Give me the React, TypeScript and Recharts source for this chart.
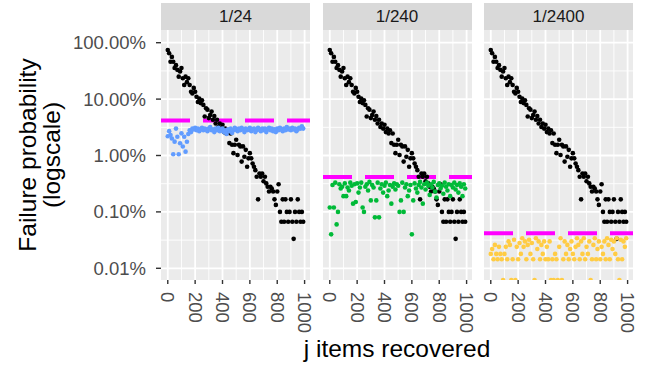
import React from "react";
import { ScatterChart, Scatter, XAxis, YAxis, CartesianGrid, ReferenceLine } from "recharts";

// j items recovered (x positions shared by every series)
const jValues = [
  0, 10, 20, 30, 40, 50, 60, 70, 80, 90,
  100, 110, 120, 130, 140, 150, 160, 170, 180, 190,
  200, 210, 220, 230, 240, 250, 260, 270, 280, 290,
  300, 310, 320, 330, 340, 350, 360, 370, 380, 390,
  400, 410, 420, 430, 440, 450, 460, 470, 480, 490,
  500, 510, 520, 530, 540, 550, 560, 570, 580, 590,
  600, 610, 620, 630, 640, 650, 660, 670, 680, 690,
  700, 710, 720, 730, 740, 750, 760, 770, 780, 790,
  800, 810, 820, 830, 840, 850, 860, 870, 880, 890,
  900, 910, 920, 930, 940, 950, 960, 970, 980, 990,
];

// black series, same in every facet
const blackP = [
  0.74, 0.65, 0.46, 0.56, 0.46, 0.355, 0.4, 0.33, 0.25, 0.31,
  0.355, 0.234, 0.178, 0.25, 0.2, 0.234, 0.178, 0.135, 0.126, 0.158,
  0.135, 0.11, 0.089, 0.102, 0.085, 0.095, 0.079, 0.049, 0.069, 0.065,
  0.046, 0.052, 0.06, 0.043, 0.05, 0.037, 0.043, 0.032, 0.037, 0.03,
  0.035, 0.026, 0.03, 0.0245, 0.028, 0.0166, 0.0245, 0.0155, 0.011, 0.0155,
  0.019, 0.0102, 0.0155, 0.0145, 0.0078, 0.0145, 0.0095, 0.0126, 0.0063, 0.0089,
  0.011, 0.0089, 0.0072, 0.0063, 0.0055, 0.0042, 0.00167, 0.0048, 0.0042, 0.0048,
  0.0035, 0.0042, 0.0032, 0.0028, 0.0023, 0.0028, 0.0026, 0.0023, 0.00167, 0.00133,
  0.0023, 0.0031, 0.001, 0.000667, 0.00167, 0.000667, 0.00167, 0.001, 0.000667, 0.001,
  0.00167, 0.000667, 0.000333, 0.001, 0.000667, 0.00167, 0.001, 0.000667, 0.001, 0.000667,
];

// 1/24 facet
const blueP = [
  0.022, 0.027, 0.023, 0.02, 0.0105, 0.0176, 0.03, 0.0215, 0.0105, 0.0165,
  0.0247, 0.0144, 0.0215, 0.0117, 0.0175, 0.024, 0.028, 0.026, 0.03, 0.029,
  0.031, 0.028, 0.03, 0.027, 0.029, 0.031, 0.028, 0.03, 0.029, 0.027,
  0.03, 0.032, 0.028, 0.029, 0.026, 0.03, 0.028, 0.031, 0.027, 0.029,
  0.03, 0.026, 0.028, 0.024, 0.029, 0.027, 0.03, 0.025, 0.028, 0.031,
  0.029, 0.027, 0.03, 0.028, 0.031, 0.029, 0.026, 0.03, 0.028, 0.029,
  0.031, 0.027, 0.029, 0.03, 0.026, 0.028, 0.031, 0.029, 0.027, 0.03,
  0.028, 0.03, 0.026, 0.029, 0.031, 0.028, 0.03, 0.027, 0.029, 0.026,
  0.03, 0.028, 0.031, 0.029, 0.027, 0.03, 0.028, 0.032, 0.029, 0.03,
  0.028, 0.031, 0.029, 0.03, 0.027, 0.029, 0.031, 0.03, 0.033, 0.03,
];

// 1/240 facet
const greenP = [
  0.0012, 0.0004, 0.003, 0.0012, 0.0033, 0.0006, 0.001, 0.0031, 0.0026, 0.0028,
  0.0019, 0.0032, 0.0019, 0.0027, 0.0024, 0.0033, 0.0029, 0.0014, 0.0031, 0.0015,
  0.0032, 0.0022, 0.0027, 0.0033, 0.0012, 0.001, 0.0028, 0.0031, 0.0024, 0.0034,
  0.0016, 0.003, 0.0027, 0.0008, 0.0016, 0.0033, 0.0008, 0.0026, 0.0031, 0.0022,
  0.0029, 0.0033, 0.0019, 0.0024, 0.003, 0.0014, 0.0028, 0.0032, 0.0025, 0.0031,
  0.0029, 0.001, 0.0016, 0.0033, 0.001, 0.0027, 0.0031, 0.0019, 0.0024, 0.003,
  0.0004, 0.0016, 0.0032, 0.0026, 0.0022, 0.003, 0.0034, 0.0027, 0.0014, 0.0031,
  0.0025, 0.0033, 0.0029, 0.002, 0.0031, 0.0027, 0.0034, 0.0023, 0.0018, 0.003,
  0.0032, 0.0026, 0.0029, 0.0021, 0.0033, 0.0028, 0.0024, 0.0031, 0.0019, 0.003,
  0.0027, 0.0033, 0.0025, 0.003, 0.0022, 0.0032, 0.0028, 0.0019, 0.0031, 0.0026,
];

// 1/2400 facet (0 = no failure, drawn at the panel floor like ggplot's -Inf)
const yellowP = [
  0.00018, 0.00022, 0.000145, 0.00026, 0.00018, 0.000145, 0.00024, 0.00018, 0.000145, 0,
  0.00018, 0.00024, 0.000145, 0.0003, 0.00026, 0, 0.000145, 0.00032, 0, 0.00024,
  0.000145, 0.00028, 0.00018, 0.00034, 0.00024, 0.0003, 0.000145, 0.00026, 0.00032, 0.00018,
  0.00028, 0.000145, 0, 0.00034, 0.00022, 0.0003, 0.000145, 0.00026, 0.00018, 0.0003,
  0.000145, 0.00024, 0.000145, 0.0003, 0, 0.000145, 0, 0.00018, 0.000145, 0,
  0.00024, 0.00034, 0, 0.000145, 0.0003, 0.00018, 0.00026, 0.000145, 0.00022, 0.0003,
  0.00018, 0.000145, 0.00024, 0.00034, 0.00026, 0.000145, 0.0003, 0.00018, 0.00034, 0.000145,
  0.00024, 0.00018, 0.0003, 0, 0.000145, 0.00026, 0.00034, 0.000145, 0.00022, 0.0003,
  0.000145, 0.00024, 0.00018, 0.0003, 0.000145, 0.00034, 0.00026, 0.000145, 0.00032, 0.00022,
  0.0003, 0.00018, 0.00034, 0.000145, 0, 0.00032, 0.000145, 0.0003, 0.00024, 0.00034,
];

const facetLabels = ["1/24", "1/240", "1/2400"];
const thresholds = [1 / 24, 1 / 240, 1 / 2400];
const facetColors = ["#619CFF", "#00BA38", "#FFCC44"];
const facetSeries = [blueP, greenP, yellowP];

const yTicks = [0.0001, 0.001, 0.01, 0.1, 1];
const yMinor = [0.000316, 0.00316, 0.0316, 0.316];
const xTicks = [0, 200, 400, 600, 800, 1000];
const xMinor = [100, 300, 500, 700, 900];

const Y_MIN = 6.2e-5;
const Y_MAX = 1.68;
const X_DOMAIN: [number, number] = [-49.5, 1039.5];

const FONT = "'Liberation Sans', Arial, Helvetica, sans-serif";
const panelLefts = [161, 322.5, 484];
const PANEL_W = 149;
const PANEL_TOP = 30;
const PAD = 12; // room for rotated tick labels at the panel edges

const rows = (vals: number[]) =>
  jValues.map((j, i) => ({ j, p: vals[i] > 0 ? vals[i] : Y_MIN }));

const dot = (color: string) => (props: any) =>
  <circle cx={props.cx} cy={props.cy} r={2.3} fill={color} />;

const XTick = (props: any) => {
  const { x, y, payload } = props;
  return (
    <text x={x} y={y} transform={`rotate(90, ${x}, ${y})`} textAnchor="start"
      dominantBaseline="central" fontSize={18.5} fill="#4D4D4D" fontFamily={FONT}>
      {payload.value}
    </text>
  );
};

const pct = (v: number) => `${(v * 100).toFixed(2)}%`;

function Facet({ idx }: { idx: number }) {
  const first = idx === 0;
  const yW = first ? 161 : 0;
  const padL = first ? 0 : PAD;
  return (
    <div style={{ position: "absolute", left: panelLefts[idx] - yW - padL, top: 0 }}>
      <ScatterChart width={PANEL_W + yW + padL + PAD} height={368}
        margin={{ top: PANEL_TOP, right: PAD, bottom: 28, left: padL }}>
        <CartesianGrid fill="#EBEBEB" stroke="#FFFFFF" strokeWidth={0.9}
          horizontalValues={yMinor} verticalValues={xMinor} />
        <CartesianGrid stroke="#FFFFFF" strokeWidth={1.8}
          horizontalValues={yTicks} verticalValues={xTicks} />
        <XAxis type="number" dataKey="j" domain={X_DOMAIN} ticks={xTicks}
          allowDataOverflow height={60} axisLine={false} tickSize={4} tickMargin={8}
          tickLine={{ stroke: "#333333", strokeWidth: 1.4 }} tick={<XTick />} interval={0} />
        <YAxis type="number" dataKey="p" scale="log" domain={[Y_MIN, Y_MAX]} ticks={yTicks}
          allowDataOverflow hide={!first} width={yW} axisLine={false} tickSize={5} tickMargin={10}
          tickLine={{ stroke: "#333333", strokeWidth: 1.4 }} interval={0}
          tickFormatter={pct}
          tick={{ fontSize: 18.5, fill: "#4D4D4D", fontFamily: FONT }} />
        <ReferenceLine y={thresholds[idx]} stroke="#FF00FF" strokeWidth={4}
          strokeDasharray="29 13" />
        <Scatter data={rows(blackP)} shape={dot("#000000")} isAnimationActive={false} />
        <Scatter data={rows(facetSeries[idx])} shape={dot(facetColors[idx])}
          isAnimationActive={false} />
      </ScatterChart>
      <div style={{
        position: "absolute", left: yW + padL, top: 3, width: PANEL_W, height: 27,
        background: "#D9D9D9", color: "#1A1A1A", fontFamily: FONT, fontSize: 17,
        display: "flex", alignItems: "center", justifyContent: "center",
      }}>
        {facetLabels[idx]}
      </div>
    </div>
  );
}

export default function App() {
  return (
    <div style={{ position: "absolute", left: 0, top: 0, width: 649, height: 368, background: "#FFFFFF" }}>
      <Facet idx={0} />
      <Facet idx={1} />
      <Facet idx={2} />
      <svg width={649} height={368} style={{ position: "absolute", left: 0, top: 0, pointerEvents: "none" }}>
        <text x={27} y={155} transform="rotate(-90, 27, 155)" textAnchor="middle"
          dominantBaseline="central" fontSize={24.5} fontFamily={FONT} fill="#000000">
          Failure probability
        </text>
        <text x={51} y={155} transform="rotate(-90, 51, 155)" textAnchor="middle"
          dominantBaseline="central" fontSize={24.5} fontFamily={FONT} fill="#000000">
          (logscale)
        </text>
        <text x={397} y={357} textAnchor="middle" fontSize={24.5} fontFamily={FONT} fill="#000000">
          j items recovered
        </text>
      </svg>
    </div>
  );
}
